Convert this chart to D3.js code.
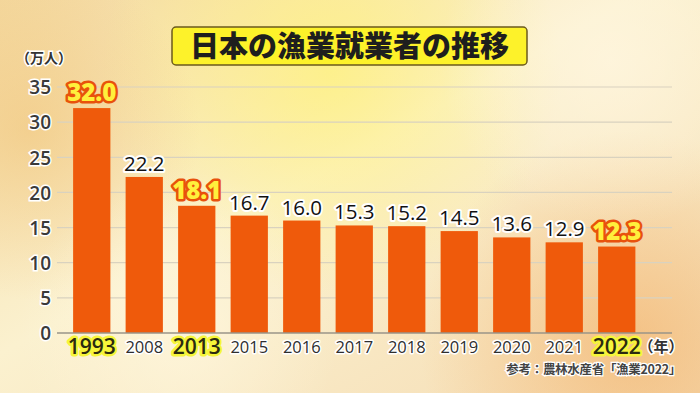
<!DOCTYPE html>
<html><head><meta charset="utf-8">
<script src="https://cdn.jsdelivr.net/npm/d3@7"></script>
<style>html,body{margin:0;padding:0;overflow:hidden;}svg{display:block;}</style>
</head><body>
<script>
const years = ["1993","2008","2013","2015","2016","2017","2018","2019","2020","2021","2022"];
const workers = [32.0,22.2,18.1,16.7,16.0,15.3,15.2,14.5,13.6,12.9,12.3];
const highlighted = ["1993","2013","2022"];
const yTicks = [0,5,10,15,20,25,30,35];
const title = "日本の漁業就業者の推移";
const yUnit = "（万人）";
const xUnit = "（年）";
const source = "参考：農林水産省「漁業2022」";

const W = 700, H = 393;
const svg = d3.select("body").append("svg").attr("width", W).attr("height", H);
const defs = svg.append("defs");

// background
const bg = defs.append("linearGradient").attr("id","bg").attr("x1",0).attr("y1",0).attr("x2",1).attr("y2",1);
bg.append("stop").attr("offset","0").attr("stop-color","#f4d9a0");
bg.append("stop").attr("offset","0.45").attr("stop-color","#fbf1cf");
bg.append("stop").attr("offset","1").attr("stop-color","#f5dcb4");
svg.append("rect").attr("width",W).attr("height",H).attr("fill","url(#bg)");
function blob(id, cx, cy, r, color, op){
  const g = defs.append("radialGradient").attr("id",id);
  g.append("stop").attr("offset","0").attr("stop-color",color).attr("stop-opacity",op);
  g.append("stop").attr("offset","1").attr("stop-color",color).attr("stop-opacity",0);
  svg.append("circle").attr("cx",cx).attr("cy",cy).attr("r",r).attr("fill",`url(#${id})`);
}
blob("b1", 330, 70, 230, "#fff27a", 0.75);
blob("b2", 630, 340, 210, "#f2ad62", 0.6);
blob("b3", 30, 130, 170, "#efbd6c", 0.5);
blob("b4", 180, 330, 160, "#fff8e0", 0.7);
blob("b5", 610, 60, 170, "#fff6e0", 0.75);

const x = d3.scaleBand().domain(years).range([65.5, 643]).paddingInner(0.29).paddingOuter(0.145);
const y = d3.scaleLinear().domain([0,35]).range([333, 87]);

// gridlines
svg.append("g").selectAll("line").data(yTicks.filter(d=>d>0)).join("line")
  .attr("x1",57).attr("x2",672).attr("y1",d=>y(d)).attr("y2",d=>y(d))
  .attr("stroke","#d9d2bf").attr("stroke-width",1.2);

// bars
svg.append("g").selectAll("rect").data(years).join("rect")
  .attr("x",d=>x(d)).attr("width",x.bandwidth())
  .attr("y",(d,i)=>y(workers[i])).attr("height",(d,i)=>y(0)-y(workers[i]))
  .attr("fill","#ef5a0b");

// axis line
svg.append("line").attr("x1",57).attr("x2",672).attr("y1",y(0)).attr("y2",y(0))
  .attr("stroke","#9a9488").attr("stroke-width",1.5);

const numFont = "'Open Sans', 'Noto Sans', sans-serif";
const cjkFont = "'Noto Sans CJK JP', sans-serif";

// y tick labels
const yAxis = d3.axisLeft(y).tickValues(yTicks).tickSize(0).tickPadding(0);
const ya = svg.append("g").attr("transform","translate(51,0)").call(yAxis);
ya.select(".domain").remove();
ya.selectAll("text").attr("font-family",numFont).attr("font-size",19).attr("font-weight",600)
  .attr("fill","#3a3a3a").attr("stroke","#ffffff").attr("stroke-width",3).attr("paint-order","stroke")
  .attr("dy","0.36em");

// y unit
svg.append("text").attr("x",44).attr("y",63).attr("text-anchor","middle")
  .attr("font-family",cjkFont).attr("font-size",14).attr("font-weight",700).attr("fill","#333")
  .attr("stroke","#fff").attr("stroke-width",3).attr("paint-order","stroke").text(yUnit);

// x labels
const xAxis = d3.axisBottom(x).tickSize(0).tickPadding(0);
const xa = svg.append("g").attr("transform","translate(0,"+y(0)+")").call(xAxis);
xa.select(".domain").remove();
xa.selectAll(".tick").each(function(d){
  const hl = highlighted.includes(d);
  const t = d3.select(this).select("text");
  t.attr("y",hl?21:20).attr("dy",0).attr("font-family",numFont)
   .attr("font-size",hl?21:16.5).attr("font-weight",hl?600:500)
   .attr("fill",hl?"#2a2a10":"#2e2e2e")
   .attr("stroke",hl?"#f6f53a":"#ffffff").attr("stroke-width",hl?5:3)
   .attr("stroke-linejoin","round").attr("paint-order","stroke");
});

// x unit
svg.append("text").attr("x",661).attr("y",352).attr("text-anchor","middle")
  .attr("font-family",cjkFont).attr("font-size",15).attr("font-weight",700).attr("fill","#333")
  .attr("stroke","#fff").attr("stroke-width",3).attr("paint-order","stroke").text(xUnit);

// value labels
svg.append("g").selectAll("text").data(years).join("text")
  .attr("x",d=>x(d)+x.bandwidth()/2)
  .attr("y",(d,i)=>y(workers[i]) - (highlighted.includes(d)?7:6))
  .attr("text-anchor","middle").attr("font-family",numFont)
  .attr("font-size",d=>highlighted.includes(d)?24:20.5)
  .attr("font-weight",d=>highlighted.includes(d)?800:500)
  .attr("fill",d=>highlighted.includes(d)?"#fff03c":"#111")
  .attr("stroke",d=>highlighted.includes(d)?"#e8520c":"#ffffff")
  .attr("stroke-width",d=>highlighted.includes(d)?5:4)
  .attr("stroke-linejoin","round").attr("paint-order","stroke")
  .text((d,i)=>workers[i].toFixed(1));

// title box
svg.append("rect").attr("x",172).attr("y",27).attr("width",355).attr("height",38).attr("rx",4)
  .attr("fill","#fdf22a").attr("stroke","#6b5a1e").attr("stroke-width",1.5);
svg.append("text").attr("x",349.5).attr("y",57).attr("text-anchor","middle")
  .attr("font-family",cjkFont).attr("font-size",29).attr("font-weight",900).attr("fill","#1e1e1e")
  .text(title);

// source
svg.append("text").attr("x",681).attr("y",374).attr("text-anchor","end")
  .attr("font-family",cjkFont).attr("font-size",12.5).attr("font-weight",700).attr("fill","#444")
  .attr("letter-spacing",-0.3)
  .attr("stroke","#fff").attr("stroke-width",2.5).attr("paint-order","stroke").text(source);
</script>
</body></html>
